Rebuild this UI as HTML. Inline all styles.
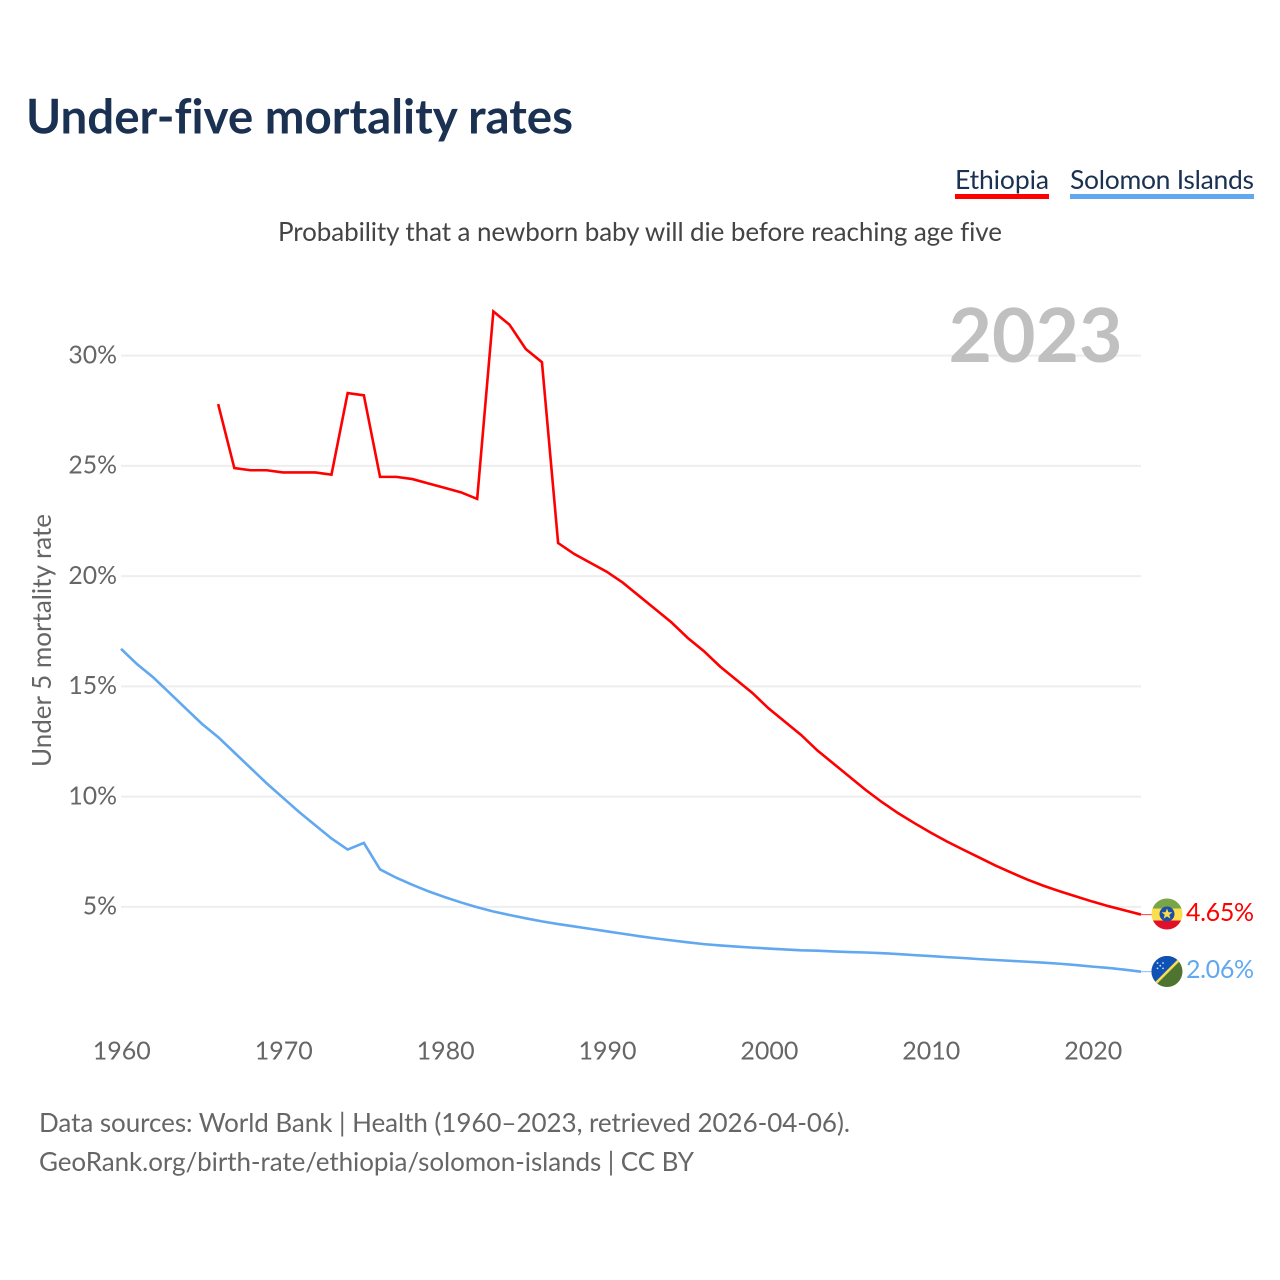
<!DOCTYPE html>
<html lang="en">
<head>
<meta charset="utf-8">
<title>Under-five mortality rates</title>
<style>
html,body{margin:0;padding:0;background:#fff;}
svg{display:block;}
text{font-family:"Lato","Carlito","Liberation Sans",sans-serif;font-variant-ligatures:none;}
</style>
</head>
<body>
<svg id="chart" xmlns="http://www.w3.org/2000/svg" width="1280" height="1280" viewBox="0 0 1280 1280">
  <rect width="1280" height="1280" fill="#fff"/>
  <text x="26" y="133.6" font-size="47.5" font-weight="700" fill="#1a3152" textLength="547">Under-five mortality rates</text>
  <text x="278" y="241" font-size="26" fill="#444" textLength="724">Probability that a newborn baby will die before reaching age five</text>
  <g>
    <text x="955" y="189" font-size="26.5" fill="#1a3152" textLength="94">Ethiopia</text>
    <rect x="955" y="194" width="94" height="5" fill="#ff0000"/>
  </g>
  <g>
    <text x="1070" y="189" font-size="26.5" fill="#1a3152" textLength="184">Solomon Islands</text>
    <rect x="1070" y="194" width="184" height="5" fill="#61a8f0"/>
  </g>
  <g id="grid"></g>
  <text x="1122.5" y="362" font-size="75" font-weight="700" fill="#c0c0c0" text-anchor="end">2023</text>
  <g id="yticks"></g>
  <g id="xticks"></g>
  <text transform="translate(51,767) rotate(-90)" font-size="26" fill="#666" textLength="253">Under 5 mortality rate</text>
  <line x1="1141" y1="914.6" x2="1152" y2="914.6" stroke="#ff0000" stroke-width="1" opacity="0.75"/>
  <line x1="1141" y1="971.7" x2="1152" y2="971.7" stroke="#61a8f0" stroke-width="1" opacity="0.75"/>
  <path id="line-ethiopia" fill="none" stroke="#ff0000" stroke-width="2.6" stroke-linejoin="miter"/>
  <path id="line-solomon" fill="none" stroke="#61a8f0" stroke-width="2.6" stroke-linejoin="miter"/>
  <defs>
    <clipPath id="flag-clip-et"><circle cx="1167" cy="914" r="15.5"/></clipPath>
    <clipPath id="flag-clip-sb"><circle cx="1167" cy="971.5" r="15.5"/></clipPath>
  </defs>
  <g clip-path="url(#flag-clip-et)">
    <rect x="1151" y="898" width="32" height="10.5" fill="#78a548"/>
    <rect x="1151" y="908.5" width="32" height="12" fill="#fcdd4d"/>
    <rect x="1151" y="920.5" width="32" height="10" fill="#e0102a"/>
    <circle cx="1167" cy="914" r="7.5" fill="#1b4fa8"/>
    <polygon points="1167,908.5 1168.5,912.2 1172.4,912.3 1169.3,914.8 1170.4,918.6 1167,916.4 1163.6,918.6 1164.7,914.8 1161.6,912.3 1165.5,912.2" fill="#fcdd4d"/>
  </g>
  <g clip-path="url(#flag-clip-sb)">
    <rect x="1151" y="956" width="32" height="32" fill="#4e7430"/>
    <polygon points="1151,956 1183,956 1151,988" fill="#0f51b5"/>
    <line x1="1153" y1="986" x2="1183" y2="956" stroke="#f5dd55" stroke-width="2.6"/>
    <circle cx="1157.5" cy="963" r="0.9" fill="#cfe0f5"/>
    <circle cx="1163" cy="963" r="0.9" fill="#cfe0f5"/>
    <circle cx="1160.3" cy="965.7" r="0.9" fill="#cfe0f5"/>
    <circle cx="1157.5" cy="968.4" r="0.9" fill="#cfe0f5"/>
    <circle cx="1163" cy="968.4" r="0.9" fill="#cfe0f5"/>
  </g>
  <text x="1186" y="921" font-size="25" fill="#ff0000" textLength="68">4.65%</text>
  <text x="1186" y="978" font-size="25" fill="#61a8f0" textLength="68">2.06%</text>
  <text x="39" y="1132" font-size="26" fill="#666" textLength="811">Data sources: World Bank | Health (1960–2023, retrieved 2026-04-06).</text>
  <text x="39" y="1171" font-size="26" fill="#666" textLength="655">GeoRank.org/birth-rate/ethiopia/solomon-islands | CC BY</text>
</svg>
<script>
const xTickYears = [1960, 1970, 1980, 1990, 2000, 2010, 2020];
const yTickValues = [5, 10, 15, 20, 25, 30];
const ethiopiaStartYear = 1966;
const ethiopiaValues = [27.8, 24.9, 24.8, 24.8, 24.7, 24.7, 24.7, 24.6, 28.3, 28.2, 24.5, 24.5, 24.4, 24.2, 24.0, 23.8, 23.5, 32.0, 31.4, 30.3, 29.7, 21.5, 21.0, 20.6, 20.2, 19.7, 19.1, 18.5, 17.9, 17.2, 16.6, 15.9, 15.3, 14.7, 14.0, 13.4, 12.8, 12.1, 11.5, 10.9, 10.3, 9.75, 9.25, 8.8, 8.37, 7.97, 7.6, 7.24, 6.88, 6.55, 6.23, 5.95, 5.7, 5.47, 5.24, 5.03, 4.84, 4.65];
const solomonStartYear = 1960;
const solomonValues = [16.7, 16.0, 15.4, 14.7, 14.0, 13.3, 12.7, 12.0, 11.3, 10.6, 9.95, 9.3, 8.7, 8.1, 7.6, 7.9, 6.7, 6.32, 6.0, 5.7, 5.44, 5.2, 4.98, 4.79, 4.63, 4.48, 4.34, 4.22, 4.11, 4.0, 3.89, 3.78, 3.67, 3.57, 3.48, 3.39, 3.31, 3.25, 3.2, 3.15, 3.11, 3.07, 3.03, 3.01, 2.98, 2.95, 2.93, 2.9, 2.86, 2.81, 2.77, 2.72, 2.68, 2.63, 2.59, 2.55, 2.51, 2.47, 2.42, 2.36, 2.29, 2.23, 2.15, 2.06];

const SVG_NS = 'http://www.w3.org/2000/svg';
function xScale(year) { return 121 + (year - 1960) * 16.19; }
function yScale(value) { return 1017.1 - value * 22.05; }
function linePath(startYear, values) {
  return values.map(function (v, i) {
    return (i ? 'L' : 'M') + xScale(startYear + i).toFixed(2) + ' ' + yScale(v).toFixed(2);
  }).join(' ');
}
const grid = document.getElementById('grid');
const yticks = document.getElementById('yticks');
const xticks = document.getElementById('xticks');
yTickValues.forEach(function (v) {
  const line = document.createElementNS(SVG_NS, 'line');
  
  
  line.setAttribute('x1', 121);
  line.setAttribute('x2', 1141);
  line.setAttribute('y1', yScale(v));
  line.setAttribute('y2', yScale(v));
  line.setAttribute('stroke', '#eeeeee');
  line.setAttribute('stroke-width', 2);
  grid.appendChild(line);
  const label = document.createElementNS(SVG_NS, 'text');
  
  
  label.setAttribute('x', 117);
  label.setAttribute('y', yScale(v) + 7.8);
  label.setAttribute('font-size', 24.8);
  label.setAttribute('fill', '#666');
  label.setAttribute('text-anchor', 'end');
  label.textContent = v + '%';
  yticks.appendChild(label);
});
xTickYears.forEach(function (year) {
  const label = document.createElementNS(SVG_NS, 'text');
  
  
  label.setAttribute('x', xScale(year) + 0.8);
  label.setAttribute('y', 1059.3);
  label.setAttribute('font-size', 25);
  label.setAttribute('fill', '#666');
  label.setAttribute('text-anchor', 'middle');
  label.textContent = year;
  xticks.appendChild(label);
});
document.getElementById('line-ethiopia').setAttribute('d', linePath(ethiopiaStartYear, ethiopiaValues));
document.getElementById('line-solomon').setAttribute('d', linePath(solomonStartYear, solomonValues));
</script>
</body>
</html>
